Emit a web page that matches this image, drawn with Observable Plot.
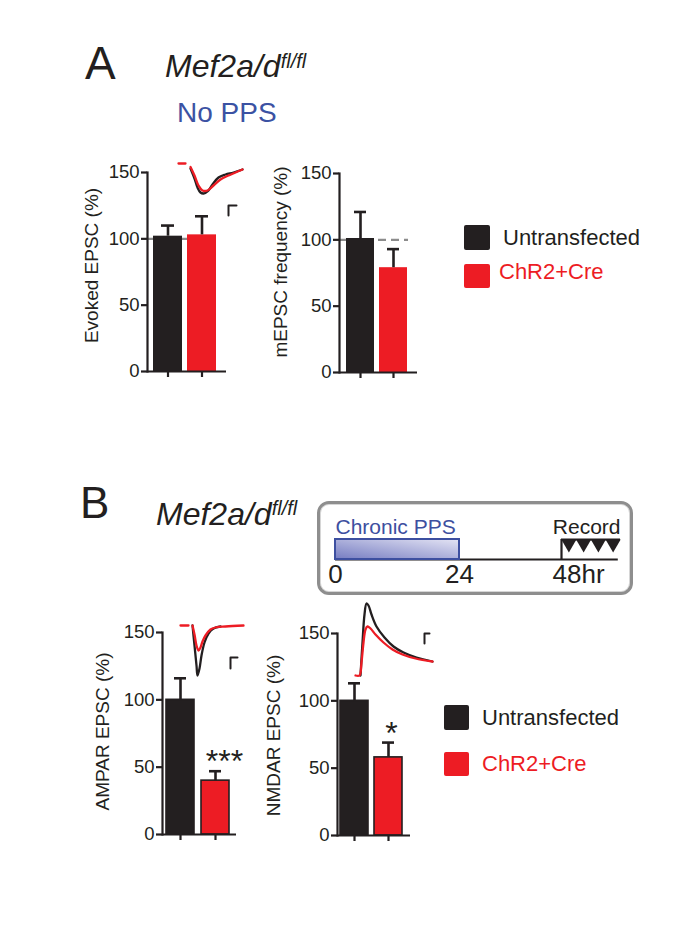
<!DOCTYPE html>
<html><head><meta charset="utf-8">
<script src="https://cdn.jsdelivr.net/npm/d3@7"></script>
<script src="https://cdn.jsdelivr.net/npm/@observablehq/plot@0.6"></script>
<style>
body{margin:0;background:#fff}
#fig{position:relative;width:680px;height:944px;overflow:hidden;font-family:"Liberation Sans",Arial,Helvetica,sans-serif;color:#231f20;background:#fff}
.t{position:absolute;white-space:nowrap;line-height:1}
.sw{position:absolute;border-radius:2px}
#fig svg{position:absolute}
</style></head><body><div id="fig"></div>
<script>
// ---------- data ----------
const groups = ["Untransfected", "ChR2+Cre"];
const evokedMean = [102, 103];
const evokedErr  = [8, 14];
const mepscMean  = [101, 79];
const mepscErr   = [20, 14];
const ampaMean   = [100, 40];
const ampaErr    = [16, 7];
const nmdaMean   = [100, 58];
const nmdaErr    = [13, 11];
const ampaSig    = ["", "***"];
const nmdaSig    = ["", "*"];
const yTicks     = [0, 50, 100, 150];
const yLabels    = ["Evoked EPSC (%)", "mEPSC frequency (%)", "AMPAR EPSC (%)", "NMDAR EPSC (%)"];

// example traces (ms, pA)
const evBaseT = [0, 3.5], evBaseV = [0, 0];
const evBlackT = [6, 8, 9.5, 11, 12.5, 14.5, 17, 20, 23.5, 27.5, 32];
const evBlackV = [-10, -30, -48, -58, -60, -56, -42, -28, -22, -18, -12];
const evRedT = [6, 8, 10, 12, 14.5, 17.5, 21, 25, 28.5, 32];
const evRedV = [-7, -24, -44, -54, -54, -44, -32, -24, -18, -12];
const evBarT = [25, 25, 29], evBarV = [-104, -84, -84];

const amBaseT = [0, 4], amBaseV = [0, 0];
const amBlackT = [6, 7, 8, 8.5, 9.5, 10.5, 12, 14, 16.5, 20];
const amBlackV = [0, -40, -80, -100, -86, -60, -34, -16, -6, -2];
const amRedT = [6, 7, 8, 9, 10, 11, 12.5, 15, 17.5, 22.5, 31.5];
const amRedV = [0, -18, -40, -50, -44, -32, -20, -8, -4, -2, 0];
const amBarT = [25, 25, 28.5], amBarV = [-86, -64, -64];

const nmBlackT = [2.5, 3.5, 4.5, 5.5, 6.5, 8, 10.5, 14.5, 19, 24, 30.5, 38.5];
const nmBlackV = [0, 66, 122, 144, 140, 122, 98, 76, 58, 46, 36, 28];
const nmRedT = [0, 2, 3, 4, 5, 6, 7.5, 10, 14, 18.5, 23.5, 30, 38.5];
const nmRedV = [0, 0, 26, 66, 92, 98, 94, 82, 66, 52, 42, 34, 28];
const nmBarT = [34.5, 34.5, 37], nmBarV = [64, 84, 84];

// schematic timeline (hours; drawn not to scale)
const timeTicks = [0, 24];
const ppsPeriod = [{start: 0, end: 24}];
const recordTimes = [48.5, 49.5, 50.5, 51.5];

// ---------- style ----------
const FONT = '"Liberation Sans", Arial, Helvetica, sans-serif';
const INK = "#231f20", RED = "#ed1c24", BLUE = "#3b52a3";
const fig = document.getElementById("fig");

function txt(html, left, baseline, size, opts = {}) {
  const el = document.createElement("div");
  el.className = "t";
  el.innerHTML = html;
  el.style.left = left + "px";
  el.style.top = (baseline - 0.8467 * size) + "px";
  el.style.fontSize = size + "px";
  if (opts.color) el.style.color = opts.color;
  if (opts.italic) el.style.fontStyle = "italic";
  fig.appendChild(el);
}
function swatch(left, top, w, h, color) {
  const el = document.createElement("div");
  el.className = "sw";
  Object.assign(el.style, {left: left + "px", top: top + "px", width: w + "px", height: h + "px", background: color});
  fig.appendChild(el);
}
function place(svg, left, top) {
  svg.style.left = left + "px";
  svg.style.top = top + "px";
  fig.appendChild(svg);
}

function bars(c) {
  const data = groups.map((g, i) => ({g, mean: c.mean[i], top: c.mean[i] + c.err[i], sig: c.sig ? c.sig[i] : ""}));
  const mL = 80, mR = 12, mT = 12, mB = 22;
  const svg = Plot.plot({
    width: mL + c.frameW + mR, height: mT + (c.y0 - c.y150) + mB,
    marginLeft: mL, marginRight: mR, marginTop: mT, marginBottom: mB,
    style: {fontFamily: FONT, fontSize: "18.5px", color: INK, background: "transparent", overflow: "visible"},
    x: {type: "band", domain: groups, paddingInner: c.pi, paddingOuter: c.po, align: c.align},
    y: {domain: [0, 150]},
    color: {domain: groups, range: [INK, RED]},
    marks: [
      c.ref ? Plot.ruleY([100], {stroke: "#8c8c8c", strokeWidth: 2.4, strokeDasharray: c.refDash, insetRight: c.refInset}) : null,
      Plot.barY(data, {x: "g", y: "mean", fill: "g", stroke: c.outline ? INK : "none", strokeWidth: 1.6}),
      Plot.ruleX(data, {x: "g", y1: "mean", y2: "top", stroke: INK, strokeWidth: 2.6}),
      Plot.tickY(data, {x: "g", y: "top", stroke: INK, strokeWidth: 2.6, insetLeft: 8, insetRight: 8}),
      Plot.text(data, {x: "g", y: "top", text: "sig", fontSize: 32, lineAnchor: "bottom", dy: 1, dx: c.sigDx || 0, fill: INK}),
      Plot.ruleY([0], {stroke: INK, strokeWidth: 2.2}),
      Plot.frame({anchor: "left", stroke: INK, strokeWidth: 2.2}),
      Plot.axisY({ticks: yTicks, tickSize: 6, tickPadding: 2, strokeWidth: 2.2, label: null}),
      Plot.axisX({tickSize: 6, tickFormat: () => "", strokeWidth: 2.2, label: null}),
      Plot.text([c.label], {frameAnchor: "left", textAnchor: "middle", rotate: -90, dx: c.ldx, dy: c.ldy, fontSize: 19, fill: INK})
    ]
  });
  place(svg, c.axisX - mL, c.y150 - mT);
}

function trace(c) {
  const line = (T, V, col) => Plot.line({length: T.length}, {x: T, y: V, stroke: col, strokeWidth: 2.3, curve: "catmull-rom"});
  const svg = Plot.plot({
    width: c.w, height: c.h, margin: 0,
    style: {background: "transparent", overflow: "visible"},
    x: {domain: c.xd, axis: null}, y: {domain: c.yd, axis: null},
    marks: [
      ...c.series.map(s => line(s[0], s[1], s[2])),
      Plot.line({length: c.bar[0].length}, {x: c.bar[0], y: c.bar[1], stroke: INK, strokeWidth: 2, curve: "linear"})
    ]
  });
  place(svg, c.left, c.top);
}

// ---------- panel A ----------
txt("A", 85, 79, 46);
txt('Mef2a/d<span style="font-size:20px;position:relative;top:-9px">fl/fl</span>', 165, 77, 32, {italic: true});
txt("No PPS", 177, 123, 28, {color: BLUE});

bars({mean: evokedMean, err: evokedErr, label: yLabels[0], axisX: 147, y150: 172, y0: 371, frameW: 79,
      pi: 0.147, po: 0.235, align: 0.375, ref: true, refInset: 10, ldx: -56, ldy: -6.5});
bars({mean: mepscMean, err: mepscErr, label: yLabels[1], axisX: 339, y150: 173, y0: 372, frameW: 78,
      pi: 0.149, po: 0.239, align: 0.44, ref: true, refDash: "8,5", refInset: 9, ldx: -59, ldy: -11});

trace({left: 170, top: 150, w: 80, h: 70, xd: [-4, 36], yd: [-114, 26],
       series: [[evBaseT, evBaseV, RED], [evBlackT, evBlackV, INK], [evRedT, evRedV, RED]], bar: [evBarT, evBarV]});

swatch(464, 225, 26, 25, INK);
swatch(464, 264, 26, 24, RED);
txt("Untransfected", 503, 246, 22);
txt("ChR2+Cre", 499, 280, 22, {color: RED});

// ---------- panel B ----------
txt("B", 80, 518, 44);
txt('Mef2a/d<span style="font-size:20px;position:relative;top:-10px">fl/fl</span>', 156, 525, 32, {italic: true});

// schematic box
const box = document.createElement("div");
Object.assign(box.style, {position: "absolute", left: "317px", top: "501px", width: "316px", height: "94px",
  boxSizing: "border-box", border: "3px solid #8e8e8e", borderRadius: "12px",
  boxShadow: "inset 0 0 0 1px #d6d6d6"});
fig.appendChild(box);

// schematic (not-to-scale) hour axis: 0-24 h gets more room than 24-48 h
const hourPos = d3.scaleLinear().domain([0, 24, 48, 52]).range([0, 124, 226, 285]);
const tl = Plot.plot({
  width: 340, height: 110, margin: 0,
  style: {fontFamily: FONT, background: "transparent", overflow: "visible", color: INK},
  x: {transform: hourPos, range: [35, 320], axis: null},
  y: {domain: [0, 1], range: [69, 49], axis: null},
  marks: [
    Plot.ruleY([0], {x1: 0, x2: 51.85, stroke: INK, strokeWidth: 2.2}),
    Plot.rect(ppsPeriod, {x1: "start", x2: "end", y1: 0, y2: 1, fill: "url(#ppsGrad)", stroke: "#3d4fa0", strokeWidth: 2}),
    Plot.ruleX([48], {y1: 0, y2: 1, stroke: INK, strokeWidth: 2.2}),
    Plot.ruleY([1], {x1: 48, x2: 52, stroke: INK, strokeWidth: 2}),
    Plot.dot(recordTimes, {x: d => d, y: 1, symbol: "triangle", r: 5.6, rotate: 180, fill: INK, stroke: "none", dy: 4.3}),
    Plot.text(timeTicks, {x: d => d, y: 0, text: d => String(d), fontSize: 26, lineAnchor: "bottom", dy: 23, fill: INK}),
    Plot.text([48], {x: d => d, y: 0, text: () => "48hr", fontSize: 26, textAnchor: "start", lineAnchor: "bottom", dy: 23, dx: -9, fill: INK}),
    Plot.text([0], {x: d => d, y: 1, text: () => "Chronic PPS", fontSize: 21, textAnchor: "start", lineAnchor: "bottom", dy: -6, fill: "#3d4fa0"}),
    Plot.text([52], {x: d => d, y: 1, text: () => "Record", fontSize: 21, textAnchor: "end", lineAnchor: "bottom", dy: -6, fill: INK})
  ]
});
{
  const defs = d3.select(tl).insert("defs", ":first-child");
  const g = defs.append("linearGradient").attr("id", "ppsGrad").attr("x1", "0").attr("y1", "1").attr("x2", "1").attr("y2", "0");
  g.append("stop").attr("offset", "0").attr("stop-color", "#767dc2");
  g.append("stop").attr("offset", "1").attr("stop-color", "#e4e4f4");
}
place(tl, 300, 490);

bars({mean: ampaMean, err: ampaErr, sig: ampaSig, sigDx: 9, label: yLabels[2], axisX: 162, y150: 632, y0: 834, frameW: 74,
      pi: 0.194, po: 0.125, align: 0.33, outline: true, ldx: -59.5, ldy: -2});
bars({mean: nmdaMean, err: nmdaErr, sig: nmdaSig, sigDx: 3, label: yLabels[3], axisX: 337, y150: 633, y0: 835, frameW: 73,
      pi: 0.174, po: 0.145, align: 0.3, outline: true, ldx: -64, ldy: 1});

trace({left: 170, top: 612, w: 80, h: 70, xd: [-5, 35], yd: [-114, 26],
       series: [[amBaseT, amBaseV, RED], [amBlackT, amBlackV, INK], [amRedT, amRedV, RED]], bar: [amBarT, amBarV]});
trace({left: 345, top: 595, w: 95, h: 85, xd: [-5, 42.5], yd: [-10, 160],
       series: [[nmBlackT, nmBlackV, INK], [nmRedT, nmRedV, RED]], bar: [nmBarT, nmBarV]});

swatch(444, 705, 25, 25, INK);
swatch(444, 752, 25, 24, RED);
txt("Untransfected", 482, 726, 22);
txt("ChR2+Cre", 482, 772, 22, {color: RED});
</script></body></html>
